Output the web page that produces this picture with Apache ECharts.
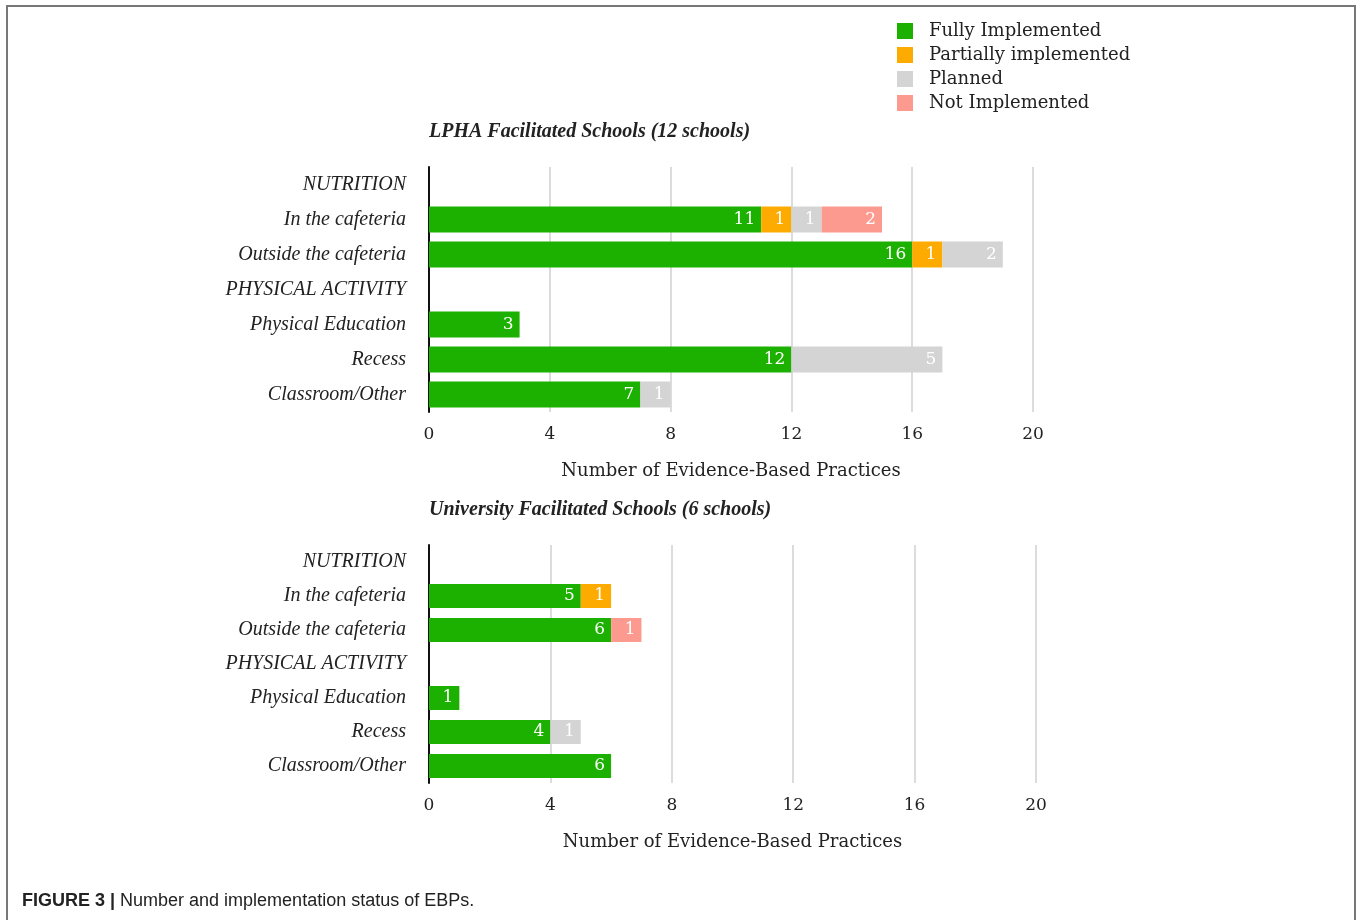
<!DOCTYPE html>
<html>
<head>
<meta charset="utf-8">
<script src="https://cdn.jsdelivr.net/npm/echarts@6/dist/echarts.min.js"></script>
<style>
  html, body { margin: 0; padding: 0; background: #fff; }
  #chart { width: 1357px; height: 920px; }
</style>
</head>
<body>
<div id="chart"></div>
<script>
// Practice categories, listed top to bottom
const categories = ['NUTRITION', 'In the cafeteria', 'Outside the cafeteria', 'PHYSICAL ACTIVITY', 'Physical Education', 'Recess', 'Classroom/Other'];
const statusNames = ['Fully Implemented', 'Partially implemented', 'Planned', 'Not Implemented'];
const xTicks = [0, 4, 8, 12, 16, 20];

// LPHA facilitated schools (12 schools)
const lphaFully     = [null, 11, 16, null, 3, 12, 7];
const lphaPartial   = [null, 1, 1, null, null, null, null];
const lphaPlanned   = [null, 1, 2, null, null, 5, 1];
const lphaNot       = [null, 2, null, null, null, null, null];

// University facilitated schools (6 schools)
const uniFully      = [null, 5, 6, null, 1, 4, 6];
const uniPartial    = [null, 1, null, null, null, null, null];
const uniPlanned    = [null, null, null, null, null, 1, null];
const uniNot        = [null, null, 1, null, null, null, null];

const statusColors = ['#1cb000', '#fdab00', '#d4d4d4', '#fd9a90'];
const serif = 'DejaVu Serif';
const serifItalic = 'Liberation Serif';

function stackSeries(arrays, gridIdx, barWidth) {
  return arrays.map((data, i) => ({
    name: statusNames[i],
    type: 'bar',
    stack: 'g' + gridIdx,
    xAxisIndex: gridIdx,
    yAxisIndex: gridIdx,
    barWidth: barWidth,
    data: data,
    itemStyle: { color: statusColors[i] },
    label: {
      show: true,
      position: 'insideRight',
      distance: 6,
      color: '#fff',
      fontFamily: serif,
      fontSize: 17,
      formatter: p => (p.value == null ? '' : p.value)
    },
    emphasis: { disabled: true }
  }));
}

function valueAxis(gridIdx) {
  return {
    type: 'value',
    gridIndex: gridIdx,
    min: 0, max: 20, interval: 4,
    axisLine: { show: false },
    axisTick: { show: false },
    splitLine: { lineStyle: { color: '#d0d0d0', width: 1.5 } },
    axisLabel: {
      margin: 14, color: '#222', fontFamily: serif, fontSize: 17,
      formatter: v => (xTicks.includes(v) ? String(v) : '')
    },
    name: 'Number of Evidence-Based Practices',
    nameLocation: 'middle',
    nameGap: 50,
    nameTextStyle: { color: '#222', fontFamily: serif, fontSize: 18 }
  };
}

function categoryAxis(gridIdx) {
  return {
    type: 'category',
    gridIndex: gridIdx,
    data: categories,
    inverse: true,
    axisLine: { show: true, lineStyle: { color: '#111', width: 2 } },
    axisTick: { show: false },
    axisLabel: {
      margin: 23, color: '#222', fontFamily: serifItalic,
      fontStyle: 'italic', fontSize: 20
    }
  };
}

const chart = echarts.init(document.getElementById('chart'), null, { renderer: 'canvas' });

chart.setOption({
  animation: false,
  backgroundColor: '#fff',
  title: [
    {
      text: 'LPHA Facilitated Schools (12 schools)',
      left: 429, top: 122, padding: 0,
      textStyle: { fontFamily: serifItalic, fontStyle: 'italic', fontWeight: 'bold', fontSize: 20, color: '#222' }
    },
    {
      text: 'University Facilitated Schools (6 schools)',
      left: 429, top: 500, padding: 0,
      textStyle: { fontFamily: serifItalic, fontStyle: 'italic', fontWeight: 'bold', fontSize: 20, color: '#222' }
    }
  ],
  legend: {
    data: statusNames,
    orient: 'vertical',
    left: 897, top: 22, padding: 0,
    itemWidth: 16, itemHeight: 16, itemGap: 6,
    icon: 'rect',
    selectedMode: false,
    textStyle: { fontFamily: serif, fontSize: 18, color: '#222', lineHeight: 16, padding: [0, 0, 0, 11] }
  },
  grid: [
    { left: 429, top: 167, width: 604, height: 245 },
    { left: 429, top: 545, width: 607, height: 238 }
  ],
  xAxis: [valueAxis(0), valueAxis(1)],
  yAxis: [categoryAxis(0), categoryAxis(1)],
  series: [
    ...stackSeries([lphaFully, lphaPartial, lphaPlanned, lphaNot], 0, 26),
    ...stackSeries([uniFully, uniPartial, uniPlanned, uniNot], 1, 24)
  ],
  graphic: [
    {
      type: 'rect',
      shape: { x: 7, y: 6, width: 1348, height: 960 },
      style: { fill: 'none', stroke: '#777', lineWidth: 2 },
      silent: true
    },
    {
      type: 'text',
      left: 22, top: 892,
      style: {
        text: '{b|FIGURE 3 |} Number and implementation status of EBPs.',
        rich: {
          b: { fontFamily: 'Liberation Sans', fontWeight: 'bold', fontSize: 18, fill: '#222' }
        },
        fontFamily: 'Liberation Sans', fontSize: 18, fill: '#222'
      },
      silent: true
    }
  ]
});
</script>
</body>
</html>
